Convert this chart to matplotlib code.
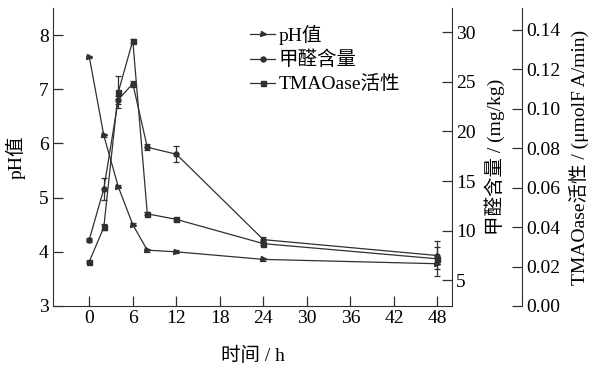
import matplotlib
matplotlib.use('Agg')
import matplotlib.pyplot as plt
from matplotlib.lines import Line2D

plt.rcParams['font.family'] = ['Liberation Serif', 'Noto Sans CJK SC']
plt.rcParams['font.size'] = 14
plt.rcParams['axes.unicode_minus'] = False

hours = [0, 2, 4, 6, 8, 12, 24, 48]
ph = [7.6, 6.15, 5.2, 4.5, 4.03, 4.0, 3.86, 3.78]
ph_err = [0.02, 0.03, 0.03, 0.03, 0.03, 0.03, 0.03, 0.1]
formaldehyde = [9.1, 14.2, 23.2, 24.8, 18.4, 17.7, 9.1, 7.5]
form_err = [0.2, 1.1, 0.4, 0.3, 0.3, 0.8, 0.3, 0.9]
tmaoase = [0.0225, 0.0398, 0.1084, 0.1345, 0.0467, 0.0439, 0.0316, 0.0239]
tmao_err = [0.0005, 0.0015, 0.008, 0.001, 0.0008, 0.0008, 0.0008, 0.0088]

xticks = [0, 6, 12, 18, 24, 30, 36, 42, 48]
c = '#303030'

fig = plt.figure(figsize=(5.9, 3.67), dpi=100)
ax = fig.add_axes([53/590, 1-306/367, 399/590, 298/367])
ax2 = ax.twinx()
ax3 = ax.twinx()
ax3.spines['right'].set_position(('axes', 1 + 70/399))

kw = dict(color=c, lw=0.9, ms=3.6, capsize=2.2, elinewidth=0.9, capthick=0.9)
ax.errorbar(hours, ph, yerr=ph_err, marker='>', **kw)
ax2.errorbar(hours, formaldehyde, yerr=form_err, marker='o', **kw)
ax3.errorbar(hours, tmaoase, yerr=tmao_err, marker='s', **kw)

ax.set_xlim(-5, 50)
ax.set_ylim(3, 8.5)
ax2.set_ylim(2.42, 32.42)
ax3.set_ylim(0, 0.151)
ax.set_xticks(xticks)
ax.set_yticks([3, 4, 5, 6, 7, 8])
ax2.set_yticks([5, 10, 15, 20, 25, 30])
ax3.set_yticks([0, 0.02, 0.04, 0.06, 0.08, 0.10, 0.12, 0.14])
ax3.set_yticklabels(['%.2f' % v for v in ax3.get_yticks()])

for a in (ax, ax2, ax3):
    a.spines['top'].set_visible(False)
    a.tick_params(direction='in', length=7, width=0.9, color=c, pad=3)
for s in ax.spines.values():
    s.set_color(c)
ax2.spines['right'].set_color(c)
ax3.spines['right'].set_color(c)
ax3.spines['left'].set_visible(False)
ax3.spines['bottom'].set_visible(False)
ax2.spines['left'].set_visible(False)
ax2.spines['bottom'].set_visible(False)
ax.spines['right'].set_visible(False)

ax.set_xlabel('时间 / h', labelpad=14)
ax.set_ylabel('pH值', labelpad=10)
ax2.set_ylabel('甲醛含量 / (mg/kg)', labelpad=6)
ax3.set_ylabel('TMAOase活性 / (μmolF A/min)', labelpad=6)

handles = [Line2D([], [], color=c, lw=0.9, marker=m, ms=3.6) for m in ('>', 'o', 's')]
labels = ['pH值', '甲醛含量', 'TMAOase活性']
ax3.legend(handles, labels, loc='upper left', bbox_to_anchor=((250-53)/399, (306-25)/298),
           frameon=False, borderpad=0, handlelength=1.3, handletextpad=0.15, labelspacing=0.3,
           borderaxespad=0)

fig.savefig('out.png', dpi=100)
